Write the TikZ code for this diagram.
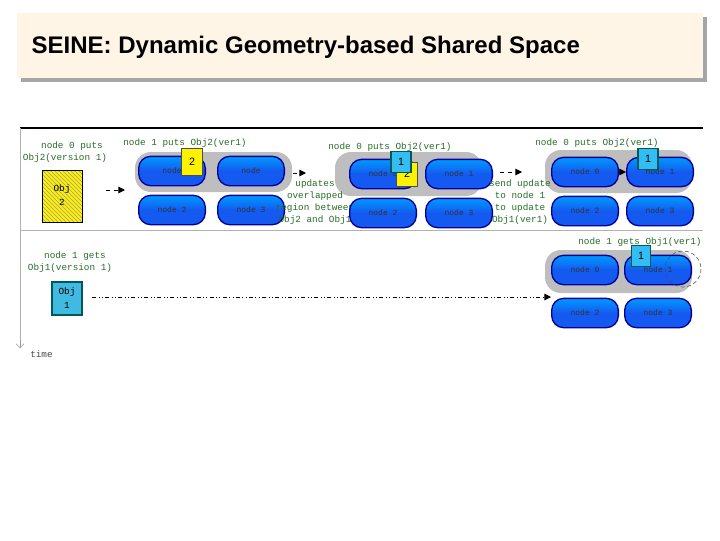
\documentclass[tikz,border=0pt]{standalone}
\usepackage{fontspec}
\setmainfont{Liberation Sans}
\newfontfamily\monof{Liberation Mono}
\usetikzlibrary{patterns,arrows.meta,shadows}
\definecolor{lbl}{RGB}{40,110,40}
\definecolor{pill}{RGB}{20,90,240}
\definecolor{cloudc}{RGB}{190,190,190}
\tikzset{
 pillbox/.style={rounded corners=9, draw=blue!60!black, line width=1pt, top color=blue!40!cyan, bottom color=pill, middle color=pill, minimum width=50, minimum height=22, inner sep=0pt, font=\monof\fontsize{6}{7}\selectfont, text=black!80},
 lab/.style={font=\monof\fontsize{7}{9}\selectfont, text=lbl, align=center, inner sep=0pt},
 ybox/.style={draw=black!70, fill=yellow, inner sep=0pt, font=\fontsize{8}{9}\selectfont},
 cbox/.style={draw=teal!70!black, line width=1pt, fill=cyan!80, inner sep=0pt, font=\fontsize{8}{9}\selectfont},
 cloudf/.style={fill=cloudc, rounded corners=12},
 arr/.style={dashed, -{Triangle[length=5pt,width=5pt]}, line width=0.7pt},
}
\begin{document}
\begin{tikzpicture}[x=0.75pt,y=-0.75pt]
\useasboundingbox (0,0) rectangle (720,540);
\fill[white] (0,0) rectangle (720,540);
\fill[black!35] (21,17) rectangle (707,82);
\fill[yellow!8!orange!8!white] (17,13) rectangle (703,78);
\node[anchor=west, font=\bfseries\fontsize{18}{20}\selectfont] (title) at (27,47) {SEINE: Dynamic Geometry-based Shared Space};
% frame
\draw[line width=2pt] (20,128) -- (703,128);
\draw[black!30] (20,230) -- (703,230);
\draw[black!30] (20,128) -- (20,348);
\coordinate (tt) at (20,348);
\draw[black!40,-{Straight Barb[length=3pt]}] (20,340) -- (tt);
\node[lab, text=black!70, anchor=west] (time) at (30,354) {time};
% clouds
\fill[cloudf] (135,152) rectangle (292,192);
\fill[cloudf] (335,152) rectangle (482,196);
\fill[cloudf] (545,150) rectangle (692,193);
\fill[cloudf] (545,250) rectangle (692,293);
% panel 1
\node[lab] (l1a) at (72,146) {node 0 puts};
\node[lab] (l1b) at (65,158) {Obj2(version 1)};
\fill[yellow] (42,170) rectangle (82,222);
\draw[pattern=north west lines, pattern color=black!40] (42,170) rectangle (82,222);
\node[font=\monof\fontsize{7}{10}\selectfont, align=center] (obj2) at (62,195) {Obj\\2};
\coordinate (a1s) at (106,190); \coordinate (a1e) at (125,190);
\draw[arr] (a1s) -- (a1e);
\node[pillbox] (p10) at (172,171) {node};
\node[pillbox] (p11) at (251,171) {node};
\node[pillbox] (p12) at (172,210) {node 2};
\node[pillbox] (p13) at (251,210) {node 3};
\node[lab] (l2) at (185,143) {node 1 puts Obj2(ver1)};
\node[ybox, minimum width=16, minimum height=20] (y1) at (192,162) {2};
% panel 2
\coordinate (a2s) at (293,173); \coordinate (a2e) at (306,173);
\draw[arr] (a2s) -- (a2e);
\node[lab] (l3) at (315,202) {updates\\overlapped\\region between\\Obj2 and Obj1};
\node[lab] (l4) at (390,147) {node 0 puts Obj2(ver1)};
\node[pillbox] (p20) at (383,174) {node 0};
\node[pillbox] (p21) at (459,174) {node 1};
\node[pillbox] (p22) at (383,213) {node 2};
\node[pillbox] (p23) at (459,213) {node 3};
\node[ybox, minimum width=16, minimum height=18] (y2) at (407,174) {2};
\node[cbox, minimum width=15, minimum height=16] (c2) at (401,162) {1};
% panel 3
\coordinate (a3s) at (500,172); \coordinate (a3e) at (522,172);
\draw[arr] (a3s) -- (a3e);
\node[lab] (l5) at (520,202) {send update\\to node 1\\to update\\Obj1(ver1)};
\node[lab] (l6) at (597,143) {node 0 puts Obj2(ver1)};
\node[pillbox] (p30) at (585,172) {node 0};
\node[pillbox] (p31) at (660,172) {node 1};
\node[pillbox] (p32) at (585,211) {node 2};
\node[pillbox] (p33) at (660,211) {node 3};
\draw[-{Triangle[length=5pt,width=5pt]}] (p30) -- (p31);
\node[cbox, minimum width=15, minimum height=16] (c3) at (648,159) {1};
% row 2
\node[lab] (l7) at (75,256) {node 1 gets};
\node[lab] (l8) at (70,268) {Obj1(version 1)};
\fill[cyan!80] (52,282) rectangle (82,315);
\draw[teal!70!black, line width=1pt, pattern=north east lines, pattern color=teal!60] (52,282) rectangle (82,315);
\node[font=\monof\fontsize{7}{10}\selectfont, align=center] (obj1) at (67,298) {Obj\\1};
\node[pillbox] (p40) at (585,270) {node 0};
\node[pillbox] (p41) at (658,270) {node 1};
\node[pillbox] (p42) at (585,313) {node 2};
\node[pillbox] (p43) at (658,313) {node 3};
\coordinate (a4s) at (92,297);
\draw[dash dot dot, -{Triangle[length=5pt,width=5pt]}, line width=0.7pt] (a4s) -- (p40.west |- a4s);
\node[lab] (l9) at (640,242) {node 1 gets Obj1(ver1)};
\node[cbox, minimum width=14, minimum height=16] (c4) at (641,256) {1};
\draw[densely dashed, black!70] (683,269) circle (18);
\end{tikzpicture}
\end{document}
